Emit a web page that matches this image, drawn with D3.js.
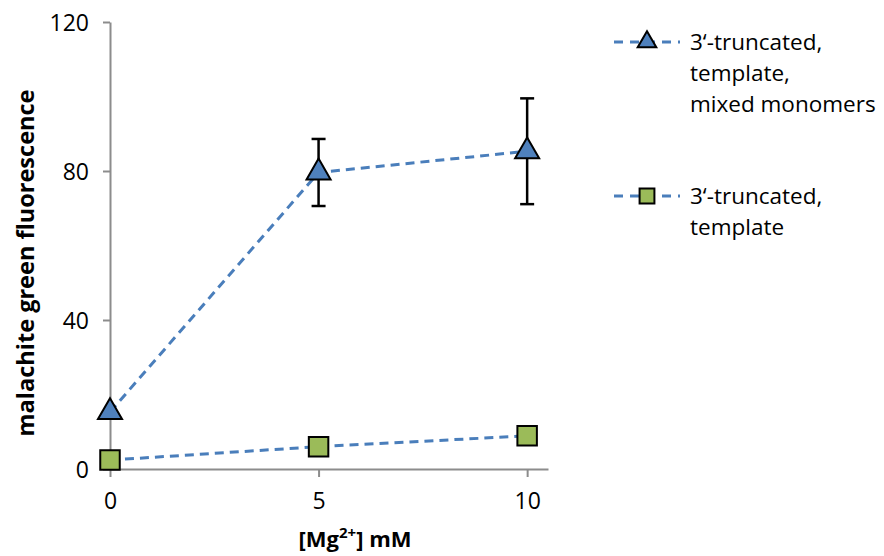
<!DOCTYPE html>
<html>
<head>
<meta charset="utf-8">
<script src="https://cdn.jsdelivr.net/npm/d3@7"></script>
<style>
	body { margin: 0; background: #fff; }
	svg text { font-family: "Open Sans", sans-serif; fill: #000; }
</style>
</head>
<body>
<svg id="chart" width="884" height="556"></svg>
<script>
// data
const mgConc = [0, 5, 10];
const mixedMonomers = [15.3, 79.6, 85.3];
const mixedErr = [0, 9, 14.2];
const templateOnly = [2.4, 6.0, 8.9];
const yTicks = [0, 40, 80, 120];
const xTicks = [0, 5, 10];
const seriesNames = [
	["3\u2018-truncated,", "template,", "mixed monomers"],
	["3\u2018-truncated,", "template"]
];

const BLUE = "#4f81bd";
const GREEN = "#9bbb59";
const LINE = "#4a7ebb";
const AXIS = "#8c8c8c";

const svg = d3.select("#chart");

const x = d3.scaleLinear().domain([0, 10.5]).range([110, 548]);
const y = d3.scaleLinear().domain([0, 120]).range([469, 22]);

// y axis
const yAxis = svg.append("g").attr("transform", "translate(110,0)")
	.call(d3.axisLeft(y).tickValues(yTicks).tickSize(7).tickPadding(14).tickSizeOuter(0));
yAxis.select(".domain").attr("stroke", AXIS).attr("stroke-width", 2);
yAxis.selectAll(".tick line").attr("stroke", AXIS).attr("stroke-width", 2);
yAxis.selectAll(".tick text").attr("font-size", 23).attr("dy", "0.36em");

// x axis
const xAxis = svg.append("g").attr("transform", "translate(0,469)")
	.call(d3.axisBottom(x).tickValues(xTicks).tickSize(8).tickPadding(16).tickSizeOuter(0));
xAxis.select(".domain").attr("stroke", AXIS).attr("stroke-width", 2);
xAxis.selectAll(".tick line").attr("stroke", AXIS).attr("stroke-width", 2);
xAxis.selectAll(".tick text").attr("font-size", 23);

// axis titles
svg.append("text")
	.attr("transform", "translate(34,263) rotate(-90)")
	.attr("text-anchor", "middle")
	.attr("font-size", 23).attr("font-weight", "bold")
	.attr("textLength", 347).attr("lengthAdjust", "spacingAndGlyphs")
	.text("malachite green fluorescence");

const xt = svg.append("text")
	.attr("x", 355).attr("y", 547)
	.attr("text-anchor", "middle")
	.attr("font-size", 22).attr("font-weight", "bold");
xt.append("tspan").text("[Mg");
xt.append("tspan").attr("font-size", 15).attr("dy", -9).text("2+");
xt.append("tspan").attr("dy", 9).text("] mM");

// lines
const line = d3.line().x(d => x(d[0])).y(d => y(d[1]));
const series = [
	{ vals: mixedMonomers, err: mixedErr, fill: BLUE, shape: d3.symbolTriangle, size: 250 },
	{ vals: templateOnly, err: null, fill: GREEN, shape: d3.symbolSquare, size: 380 }
];

series.forEach(s => {
	svg.append("path")
		.datum(mgConc.map((c, i) => [c, s.vals[i]]))
		.attr("d", line)
		.attr("fill", "none")
		.attr("stroke", LINE)
		.attr("stroke-width", 3)
		.attr("stroke-dasharray", "9,6");
});

// error bars
const eb = svg.append("g").attr("stroke", "#000").attr("stroke-width", 2.5);
mgConc.forEach((c, i) => {
	const e = mixedErr[i];
	if (!e) return;
	const cx = x(c);
	const y0 = y(mixedMonomers[i] - e), y1 = y(mixedMonomers[i] + e);
	eb.append("line").attr("x1", cx).attr("x2", cx).attr("y1", y0).attr("y2", y1);
	eb.append("line").attr("x1", cx - 7).attr("x2", cx + 7).attr("y1", y0).attr("y2", y0);
	eb.append("line").attr("x1", cx - 7).attr("x2", cx + 7).attr("y1", y1).attr("y2", y1);
});

// markers
series.slice().reverse().forEach(s => {
	svg.append("g").selectAll("path")
		.data(mgConc.map((c, i) => [c, s.vals[i]]))
		.join("path")
		.attr("transform", d => `translate(${x(d[0])},${y(d[1])})`)
		.attr("d", d3.symbol().type(s.shape).size(s.size))
		.attr("fill", s.fill)
		.attr("stroke", "#000")
		.attr("stroke-width", 2);
});

// legend
const legendY = [42, 196];
series.forEach((s, i) => {
	const g = svg.append("g").attr("transform", `translate(0,${legendY[i]})`);
	g.append("line")
		.attr("x1", 614).attr("x2", 680).attr("y1", 0).attr("y2", 0)
		.attr("stroke", LINE).attr("stroke-width", 3)
		.attr("stroke-dasharray", "9,7");
	g.append("path")
		.attr("transform", "translate(647,0)")
		.attr("d", d3.symbol().type(s.shape).size(s.shape === d3.symbolTriangle ? 150 : 220))
		.attr("fill", s.fill).attr("stroke", "#000").attr("stroke-width", 2);
	seriesNames[i].forEach((t, j) => {
		g.append("text")
			.attr("x", 690).attr("y", 8 + j * 31)
			.attr("font-size", 22.5)
			.text(t);
	});
});
</script>
</body>
</html>
